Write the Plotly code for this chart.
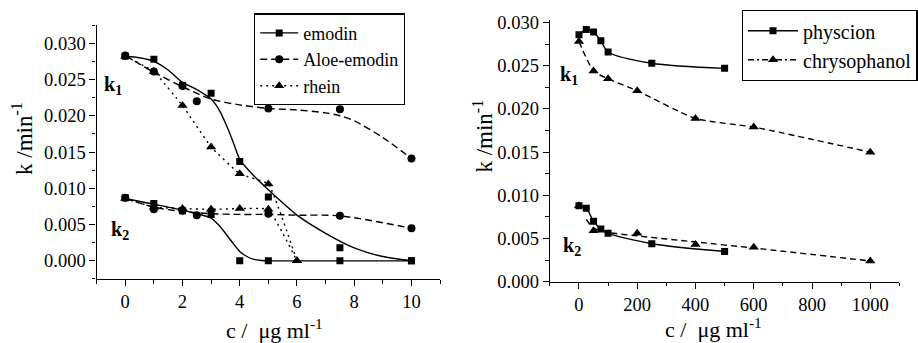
import plotly.graph_objects as go

# ---------------- Left panel data ----------------
emodin_x = [0, 1, 2, 3, 4, 5, 7.5, 10]
emodin_k1 = [0.0282, 0.0278, 0.0242, 0.0231, 0.0137, 0.0088, 0.0018, 0.0]
emodin_k2 = [0.0087, 0.0079, 0.0069, 0.0064, 0.0, 0.0, 0.0, 0.0]

aloe_x = [0, 1, 2, 2.5, 5, 7.5, 10]
aloe_k1 = [0.0283, 0.0261, 0.0241, 0.0220, 0.0210, 0.0209, 0.0141]
aloe_k2 = [0.0087, 0.0071, 0.0069, 0.0063, 0.0065, 0.0062, 0.0045]

rhein_x = [0, 1, 2, 3, 4, 5, 6]
rhein_k1 = [0.0282, 0.0261, 0.0214, 0.0157, 0.0120, 0.0106, 0.0]
rhein_k2 = [0.0086, 0.0074, 0.0072, 0.0071, 0.0072, 0.0071, 0.0]

# fitted curves
emodin_k1_fit_x = [0, 0.5, 1, 1.5, 2, 2.5, 3, 3.25, 3.5, 3.75, 4, 4.5, 5, 5.5, 6, 7, 8, 9, 10]
emodin_k1_fit = [0.0282, 0.0280, 0.0275, 0.0263, 0.0246, 0.0236, 0.0223, 0.0210, 0.0190, 0.0166,
                 0.0140, 0.0117, 0.0098, 0.0080, 0.0063, 0.0038, 0.0018, 0.0006, 0.0]
emodin_k2_fit_x = [0, 1, 2, 2.5, 3, 3.25, 3.5, 3.75, 4, 4.25, 4.5, 4.75, 5, 6, 8, 10]
emodin_k2_fit = [0.0086, 0.0078, 0.0070, 0.0065, 0.0059, 0.0050, 0.0038, 0.0025, 0.0013,
                 0.0006, 0.0002, 0.00005, 0.0, 0.0, 0.0, 0.0]
aloe_k1_fit_x = [0, 1, 2, 3, 4, 5, 6, 7, 7.5, 8, 9, 10]
aloe_k1_fit = [0.0283, 0.0260, 0.0240, 0.0223, 0.0215, 0.0210, 0.0208, 0.0204, 0.0200,
               0.0193, 0.0170, 0.0141]
aloe_k2_fit_x = [0, 1, 2, 3, 4, 5, 6, 7.5, 10]
aloe_k2_fit = [0.0086, 0.0074, 0.0068, 0.0065, 0.0064, 0.0064, 0.0063, 0.0062, 0.0045]

# ---------------- Right panel data ----------------
phys_x = [0, 25, 50, 75, 100, 250, 500]
phys_k1 = [0.0286, 0.0292, 0.0289, 0.0279, 0.0266, 0.0253, 0.0247]
phys_k2 = [0.0088, 0.0085, 0.0070, 0.0061, 0.0056, 0.0044, 0.0035]

chry_k1_x = [0, 50, 100, 200, 400, 600, 1000]
chry_k1 = [0.0278, 0.0244, 0.0235, 0.0221, 0.0189, 0.0179, 0.0150]
chry_k2_x = [0, 50, 200, 400, 600, 1000]
chry_k2 = [0.0088, 0.0059, 0.0056, 0.0043, 0.0040, 0.0024]

chry_k2_fit_x = [25, 50, 100, 200, 400, 600, 1000]
chry_k2_fit = [0.0072, 0.0062, 0.0057, 0.0053, 0.0046, 0.0039, 0.0024]

FONT = "Liberation Serif"
BLK = "black"
LW = 1.4

fig = go.Figure()

def curve(x, y, dash, xa, ya, smooth=0.8):
    fig.add_trace(go.Scatter(x=x, y=y, mode="lines", xaxis=xa, yaxis=ya,
                             line=dict(color=BLK, width=LW, dash=dash, shape="spline", smoothing=smooth),
                             showlegend=False, hoverinfo="skip"))

def pts(x, y, sym, size, xa, ya):
    fig.add_trace(go.Scatter(x=x, y=y, mode="markers", xaxis=xa, yaxis=ya,
                             marker=dict(symbol=sym, size=size, color=BLK),
                             showlegend=False))

def legend_key(name, sym, size, dash, leg, xa, ya):
    fig.add_trace(go.Scatter(x=[None], y=[None], mode="lines+markers", name=name,
                             xaxis=xa, yaxis=ya, legend=leg,
                             line=dict(color=BLK, width=LW, dash=dash),
                             marker=dict(symbol=sym, size=size, color=BLK)))

DASH_A = "7px,4px"
DOT = "2px,4px"

# Left curves
curve(emodin_k1_fit_x, emodin_k1_fit, "solid", "x", "y", 0.6)
curve(emodin_k2_fit_x, emodin_k2_fit, "solid", "x", "y", 0.6)
curve(aloe_k1_fit_x, aloe_k1_fit, DASH_A, "x", "y")
curve(aloe_k2_fit_x, aloe_k2_fit, DASH_A, "x", "y")
curve(rhein_x, rhein_k1, DOT, "x", "y", 0.3)
curve(rhein_x, rhein_k2, DOT, "x", "y", 0.3)

pts(emodin_x, emodin_k1, "square", 7, "x", "y")
pts(emodin_x, emodin_k2, "square", 7, "x", "y")
pts(aloe_x, aloe_k1, "circle", 8, "x", "y")
pts(aloe_x, aloe_k2, "circle", 8, "x", "y")
pts(rhein_x, rhein_k1, "triangle-up", 9, "x", "y")
pts(rhein_x, rhein_k2, "triangle-up", 9, "x", "y")

legend_key("emodin", "square", 7, "solid", "legend", "x", "y")
legend_key("Aloe-emodin", "circle", 8, DASH_A, "legend", "x", "y")
legend_key("rhein", "triangle-up", 9, DOT, "legend", "x", "y")

# Right curves
curve(phys_x, phys_k1, "solid", "x2", "y2", 0.8)
curve(phys_x, phys_k2, "solid", "x2", "y2", 0.8)
curve(chry_k1_x, chry_k1, "6px,4px", "x2", "y2", 0.6)
curve(chry_k2_fit_x, chry_k2_fit, "6px,4px", "x2", "y2", 0.6)

pts(phys_x, phys_k1, "square", 7, "x2", "y2")
pts(phys_x, phys_k2, "square", 7, "x2", "y2")
pts(chry_k1_x, chry_k1, "triangle-up", 9, "x2", "y2")
pts(chry_k2_x, chry_k2, "triangle-up", 9, "x2", "y2")

legend_key("physcion", "square", 7, "solid", "legend2", "x2", "y2")
legend_key("chrysophanol", "triangle-up", 9, "6px,3px,2px,3px", "legend2", "x2", "y2")

tickfont = dict(family=FONT, size=18.5, color=BLK)

def axis(domain, rng, dtick, minor, anchor, fmt=None):
    d = dict(domain=domain, range=rng, tick0=0, dtick=dtick, anchor=anchor,
             showline=True, linecolor=BLK, linewidth=LW, ticks="outside", ticklen=6,
             tickwidth=LW, tickcolor=BLK, showgrid=False, zeroline=False,
             tickfont=tickfont, automargin=False,
             minor=dict(tick0=0, dtick=minor, ticks="outside", ticklen=3.5,
                        tickwidth=LW, tickcolor=BLK, showgrid=False))
    if fmt:
        d["tickformat"] = fmt
    return d

leg_common = dict(bordercolor=BLK, borderwidth=1.3, bgcolor="white",
                  xanchor="left", yanchor="top", tracegroupgap=0)

ann_font = dict(family=FONT, size=22, color=BLK)
ytitle_font = dict(family=FONT, size=23, color=BLK)
kfont = dict(family=FONT, size=20, color=BLK)

def ann(text, x, y, font, angle=0):
    return dict(text=text, x=x, y=y, xref="paper", yref="paper", showarrow=False,
                xanchor="center", yanchor="middle", font=font, textangle=angle)

fig.update_layout(
    width=918, height=343,
    margin=dict(l=0, r=0, t=0, b=0),
    paper_bgcolor="white", plot_bgcolor="white",
    xaxis=axis([0.1057, 0.4815], [-1, 11], 2, 1, "y"),
    yaxis=axis([0.1866, 0.927], [-0.0025, 0.0325], 0.005, 0.0025, "x", ".3f"),
    xaxis2=axis([0.6016, 0.984], [-100, 1100], 200, 100, "y2"),
    yaxis2=axis([0.1787, 0.9417], [0, 0.0303], 0.005, 0.0025, "x2", ".3f"),
    legend=dict(x=0.2778, y=0.961, itemwidth=38,
                font=dict(family=FONT, size=18, color=BLK), **leg_common),
    legend2=dict(x=0.8115, y=0.971, itemwidth=50,
                 font=dict(family=FONT, size=20, color=BLK), **leg_common),
    annotations=[
        ann("k /min<sup>-1</sup>", 0.024, 1 - 138 / 343, ytitle_font, -90),
        ann("c /&nbsp;&nbsp;μg ml<sup>-1</sup>", 0.3007, 1 - 329 / 343, ann_font),
        ann("k /min<sup>-1</sup>", 0.528, 1 - 136 / 343, ytitle_font, -90),
        ann("c /&nbsp;&nbsp;μg ml<sup>-1</sup>", 0.7807, 1 - 328 / 343, ann_font),
        ann("<b>k<sub>1</sub></b>", 0.124, 0.752, kfont),
        ann("<b>k<sub>2</sub></b>", 0.131, 0.329, kfont),
        ann("<b>k<sub>1</sub></b>", 0.622, 0.781, kfont),
        ann("<b>k<sub>2</sub></b>", 0.626, 0.28, kfont),
    ],
)

fig.write_html("out.html", config={"displayModeBar": False},
               post_script="document.body.style.margin='0';document.body.style.padding='0';")
